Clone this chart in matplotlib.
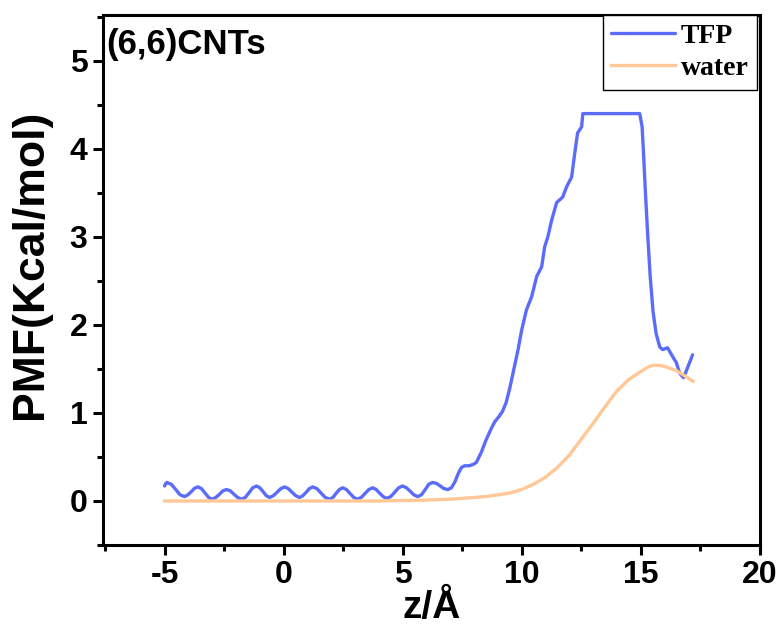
import matplotlib
matplotlib.use("Agg")
import matplotlib.pyplot as plt
from matplotlib.ticker import MultipleLocator

plt.rcParams["axes.unicode_minus"] = False

# TFP PMF (z in Angstrom, PMF in kcal/mol)
tfp_z = [-5.0, -4.95, -4.9, -4.72, -4.53, -4.35, -4.16, -4.02, -3.88, -3.74, -3.6,
         -3.45, -3.3, -3.15, -3.0, -2.85, -2.7, -2.55, -2.4, -2.24, -2.08, -1.93, -1.77,
         -1.61, -1.45, -1.3, -1.14, -1.0, -0.86, -0.73, -0.59, -0.43, -0.27, -0.12, 0.04,
         0.2, 0.35, 0.51, 0.67, 0.81, 0.95, 1.08, 1.22, 1.4, 1.57, 1.75, 1.93,
         2.07, 2.2, 2.34, 2.48, 2.64, 2.79, 2.95, 3.1, 3.26, 3.42, 3.58, 3.74,
         3.89, 4.03, 4.18, 4.33, 4.5, 4.67, 4.83, 5.0, 5.16, 5.32, 5.47, 5.63,
         5.79, 5.95, 6.1, 6.26, 6.42, 6.58, 6.74, 6.9, 7.05, 7.2, 7.35, 7.47, 7.6,
         7.8, 8.0, 8.1, 8.3, 8.5, 8.7, 8.87, 9.05, 9.2, 9.35, 9.5, 9.7, 9.85, 10.0,
         10.2, 10.42, 10.63, 10.84, 10.97, 11.1, 11.26, 11.47, 11.72, 11.89, 12.1, 12.23,
         12.35, 12.52, 12.57, 14.96, 15.06, 15.12, 15.2, 15.3, 15.4, 15.52, 15.65, 15.8,
         15.92, 16.13, 16.3, 16.5, 16.64, 16.8, 16.95, 17.18]
tfp_v = [0.17, 0.20, 0.21, 0.19, 0.13, 0.07, 0.05, 0.07, 0.105, 0.145, 0.16,
         0.14, 0.09, 0.04, 0.02, 0.04, 0.075, 0.115, 0.13, 0.115, 0.075, 0.04, 0.02,
         0.04, 0.095, 0.15, 0.17, 0.15, 0.105, 0.06, 0.04, 0.06, 0.10, 0.14, 0.16,
         0.14, 0.10, 0.06, 0.04, 0.06, 0.10, 0.14, 0.16, 0.14, 0.09, 0.04, 0.02,
         0.04, 0.085, 0.13, 0.15, 0.13, 0.085, 0.04, 0.02, 0.04, 0.085, 0.13, 0.15,
         0.13, 0.09, 0.05, 0.03, 0.05, 0.10, 0.15, 0.17, 0.15, 0.11, 0.07, 0.05,
         0.07, 0.13, 0.19, 0.21, 0.20, 0.17, 0.14, 0.13, 0.15, 0.22, 0.32, 0.38, 0.40,
         0.40, 0.42, 0.44, 0.55, 0.69, 0.81, 0.90, 0.96, 1.02, 1.12, 1.28, 1.53, 1.72, 1.94,
         2.17, 2.32, 2.55, 2.66, 2.89, 3.0, 3.19, 3.39, 3.45, 3.57, 3.68, 3.95,
         4.18, 4.25, 4.40, 4.40, 4.25, 3.95, 3.5, 3.0, 2.55, 2.15, 1.9, 1.75,
         1.72, 1.74, 1.66, 1.57, 1.45, 1.40, 1.50, 1.66]

# water PMF
water_z = [-5.0, -2.0, 1.0, 4.0, 5.0, 6.0, 7.0, 8.0, 8.5, 9.0, 9.5, 10.0, 10.5, 11.0, 11.5,
           12.0, 12.5, 13.0, 13.5, 14.0, 14.5, 15.0, 15.3, 15.5, 15.8, 16.1, 16.5, 16.8, 17.2]
water_v = [0.0, 0.0, 0.0, 0.0, 0.005, 0.01, 0.02, 0.04, 0.05, 0.07, 0.09, 0.13, 0.19, 0.27, 0.38,
           0.52, 0.70, 0.88, 1.07, 1.25, 1.38, 1.47, 1.52, 1.54, 1.54, 1.52, 1.48, 1.43, 1.36]

series_labels = ["TFP", "water"]
title_text = "(6,6)CNTs"
x_label = "z/Å"
y_label = "PMF(Kcal/mol)"

sans = ["Liberation Sans", "DejaVu Sans"]
serif = ["Liberation Serif", "DejaVu Serif"]

fig = plt.figure(figsize=(7.84, 6.25), dpi=100)
ax = fig.add_axes([0.131, 0.128, 0.838, 0.848])

ax.plot(tfp_z, tfp_v, color="#5B6CFA", lw=2.4, label=series_labels[0],
        solid_joinstyle="round", solid_capstyle="round")
ax.plot(water_z, water_v, color="#FFC896", lw=2.4, label=series_labels[1],
        solid_joinstyle="round")

ax.set_xlim(-7.6, 20)
ax.set_ylim(-0.5, 5.52)
ax.xaxis.set_major_locator(MultipleLocator(5))
ax.xaxis.set_minor_locator(MultipleLocator(2.5))
ax.yaxis.set_major_locator(MultipleLocator(1))
ax.yaxis.set_minor_locator(MultipleLocator(0.5))

for s in ax.spines.values():
    s.set_linewidth(2.2)
ax.tick_params(which="major", direction="out", length=7, width=2.2, pad=4)
ax.tick_params(which="minor", direction="out", length=4, width=2.2)
ax.tick_params(top=False, right=False)

for lab in ax.get_xticklabels() + ax.get_yticklabels():
    lab.set_family(sans)
    lab.set_fontweight("bold")
    lab.set_fontsize(23)

ax.set_xlabel(x_label, family=sans, fontweight="bold", fontsize=28, labelpad=0)
ax.set_ylabel(y_label, family=sans, fontweight="bold", fontsize=32)
ax.yaxis.set_label_coords(-0.078, 0.53)

ax.text(0.006, 0.976, title_text, transform=ax.transAxes, ha="left", va="top",
        family=sans, fontweight="bold", fontsize=25)

leg = ax.legend(loc="upper right", bbox_to_anchor=(0.996, 1.0), borderaxespad=0,
                prop={"family": serif, "weight": "bold", "size": 20},
                fancybox=False, edgecolor="black", framealpha=1,
                handlelength=2.3, handletextpad=0.2, borderpad=0.3, labelspacing=0.25)
leg.get_frame().set_linewidth(1.0)

fig.savefig("out.png", dpi=100)
